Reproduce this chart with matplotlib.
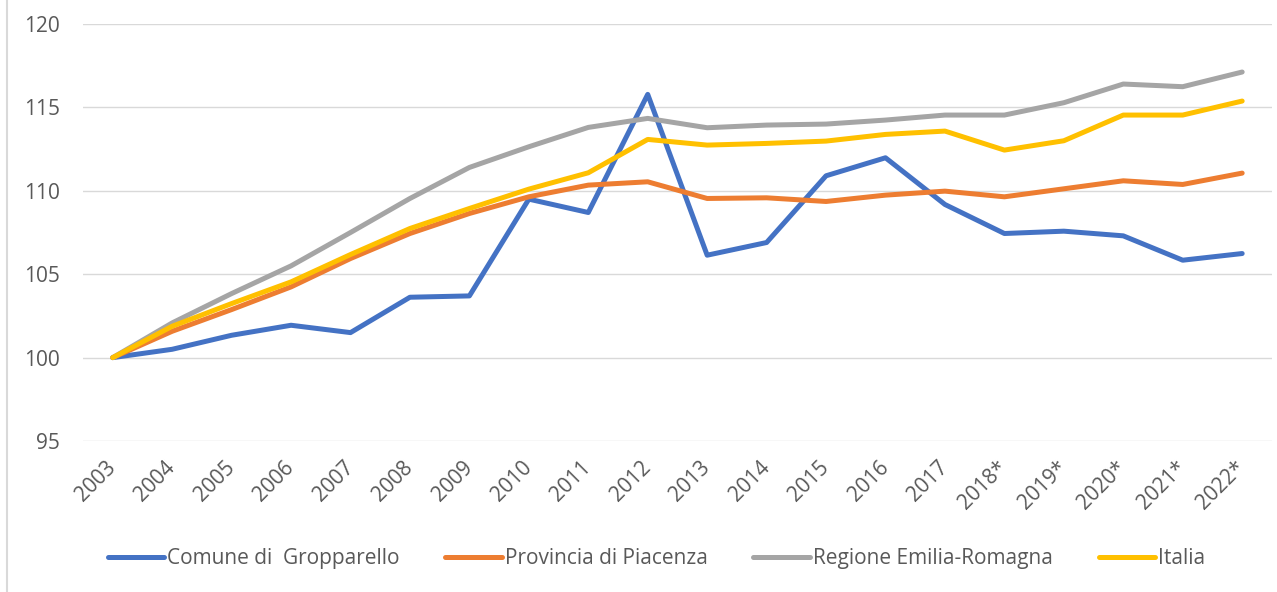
import numpy as np
import matplotlib
matplotlib.use("Agg")
import matplotlib.pyplot as plt
from matplotlib.lines import Line2D

years = ["2003", "2004", "2005", "2006", "2007", "2008", "2009", "2010", "2011", "2012",
         "2013", "2014", "2015", "2016", "2017", "2018*", "2019*", "2020*", "2021*", "2022*"]

comune = [100.0, 100.5, 101.34, 101.94, 101.5, 103.62, 103.7, 109.5, 108.7, 115.78,
          106.14, 106.9, 110.9, 111.98, 109.18, 107.44, 107.58, 107.3, 105.84, 106.24]
provincia = [100.0, 101.58, 102.88, 104.24, 105.94, 107.44, 108.64, 109.64, 110.34, 110.54,
             109.54, 109.58, 109.36, 109.74, 109.98, 109.64, 110.12, 110.6, 110.38, 111.06]
regione = [100.0, 102.08, 103.84, 105.5, 107.5, 109.54, 111.4, 112.64, 113.8, 114.34,
           113.78, 113.94, 114.0, 114.24, 114.54, 114.54, 115.28, 116.4, 116.24, 117.12]
italia = [100.0, 101.88, 103.24, 104.54, 106.18, 107.74, 108.94, 110.1, 111.08, 113.08,
          112.74, 112.84, 112.98, 113.38, 113.58, 112.44, 113.0, 114.54, 114.54, 115.38]

series_names = ["Comune di  Gropparello", "Provincia di Piacenza",
                "Regione Emilia-Romagna", "Italia"]
colors = ["#4472C4", "#ED7D31", "#A5A5A5", "#FFC000"]

plt.rcParams['font.family'] = ['Open Sans', 'DejaVu Sans']
text_color = "#595959"

fig = plt.figure(figsize=(12.77, 5.92), dpi=100)
ax = fig.add_axes([0.065, 0.255, 0.931, 0.7045])

x = np.arange(len(years))
for vals, name, c in zip([comune, provincia, regione, italia], series_names, colors):
    ax.plot(x, vals, color=c, lw=3.6, label=name, solid_capstyle='round',
            solid_joinstyle='round')

ax.set_ylim(95, 120)
ax.set_yticks([95, 100, 105, 110, 115, 120])
ax.set_xlim(-0.5, len(years) - 0.5)
ax.set_xticks(x)
ax.set_xticklabels(years, rotation=45, ha='right', va='center', rotation_mode='anchor')
ax.grid(axis='y', color='#D9D9D9', lw=1.0)
ax.set_axisbelow(True)
for s in ax.spines.values():
    s.set_visible(False)
ax.tick_params(axis='both', length=0, labelsize=15, labelcolor=text_color)
ax.tick_params(axis='y', pad=16.5)
ax.tick_params(axis='x', pad=17)

ax.legend(loc='center', bbox_to_anchor=(0.514, 0.056), bbox_transform=fig.transFigure,
          ncol=4, frameon=False, fontsize=15, labelcolor=text_color,
          handlelength=2.7, handletextpad=0.15, columnspacing=2.2)

fig.add_artist(Line2D([7 / 1277, 7 / 1277], [0, 1], color='#D9D9D9', lw=1.5,
                      transform=fig.transFigure))

fig.savefig("out.png", dpi=100)
